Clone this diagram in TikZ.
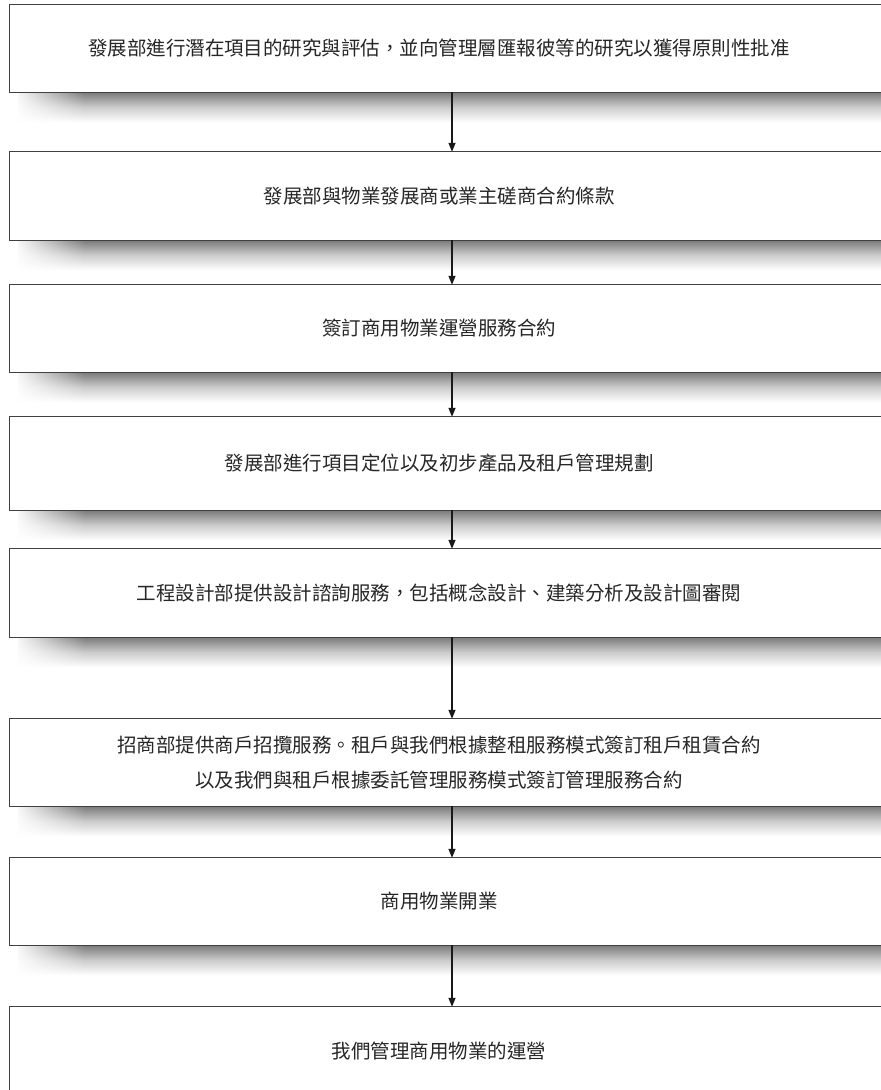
\documentclass[tikz,border=0pt]{standalone}
\usepackage{fontspec}
\newfontfamily\cjk{Noto Sans CJK TC}
\usepackage{tikz}
\usetikzlibrary{positioning,arrows.meta,fadings}
\tikzset{
  flow/.style={-{Triangle[width=7pt,length=9pt]}, line width=1.3pt, draw=black!90},
  every node/.style={anchor=center}
}

\begin{document}
\begin{tikzpicture}[
  x=1pt, y=-1pt,
  stepbox/.style={minimum width=858pt, minimum height=88pt, inner sep=0pt, align=center, text=black!85,
    font=\cjk\fontsize{19.5}{35}\selectfont},
  frame/.style={draw=black!75, line width=1pt},
  shadowstrip/.style={top color=black!52, bottom color=white, middle color=black!20}
]
\useasboundingbox (0,0) rectangle (881,1090);
\clip (0,0) rectangle (881,1090);
\node[stepbox, minimum height=87pt] (b1) at (439,48.5) {發展部進行潛在項目的研究與評估，並向管理層匯報彼等的研究以獲得原則性批准};
\node[stepbox] (b2) at (439,196) {發展部與物業發展商或業主磋商合約條款};
\node[stepbox, minimum height=87pt] (b3) at (439,328.5) {簽訂商用物業運營服務合約};
\node[stepbox, minimum height=93pt] (b4) at (439,463.5) {發展部進行項目定位以及初步產品及租戶管理規劃};
\node[stepbox] (b5) at (439,593) {工程設計部提供設計諮詢服務，包括概念設計、建築分析及設計圖審閱};
\node[stepbox, minimum height=87pt] (b6) at (439,762.5) {招商部提供商戶招攬服務。租戶與我們根據整租服務模式簽訂租戶租賃合約\\以及我們與租戶根據委託管理服務模式簽訂管理服務合約};
\node[stepbox, minimum height=87pt] (b7) at (439,901.5) {商用物業開業};
\node[stepbox] (b8) at (439,1051) {我們管理商用物業的運營};
\coordinate (ax) at (452,0);
% shadows under the boxes
\foreach \b in {b1,b2,b3,b4,b5,b6,b7}{
  \shade[shadowstrip] ([xshift=8pt]\b.south west) rectangle ([xshift=40pt,yshift=-30pt]\b.south east);
  \fill[white, path fading=east] ([xshift=4pt,yshift=1pt]\b.south west) rectangle ([xshift=75pt,yshift=-32pt]\b.south west);
}
% box frames, open on the right
\foreach \b in {b1,b2,b3,b4,b5,b6,b7,b8}{
  \draw[frame] ([xshift=40pt]\b.north east) -| (\b.south west) -- ([xshift=40pt]\b.south east);
}
\draw[flow] (b1.south -| ax) -- (b2.north -| ax);
\draw[flow] (b2.south -| ax) -- (b3.north -| ax);
\draw[flow] (b3.south -| ax) -- (b4.north -| ax);
\draw[flow] (b4.south -| ax) -- (b5.north -| ax);
\draw[flow] (b5.south -| ax) -- (b6.north -| ax);
\draw[flow] (b6.south -| ax) -- (b7.north -| ax);
\draw[flow] (b7.south -| ax) -- (b8.north -| ax);
\end{tikzpicture}
\end{document}
